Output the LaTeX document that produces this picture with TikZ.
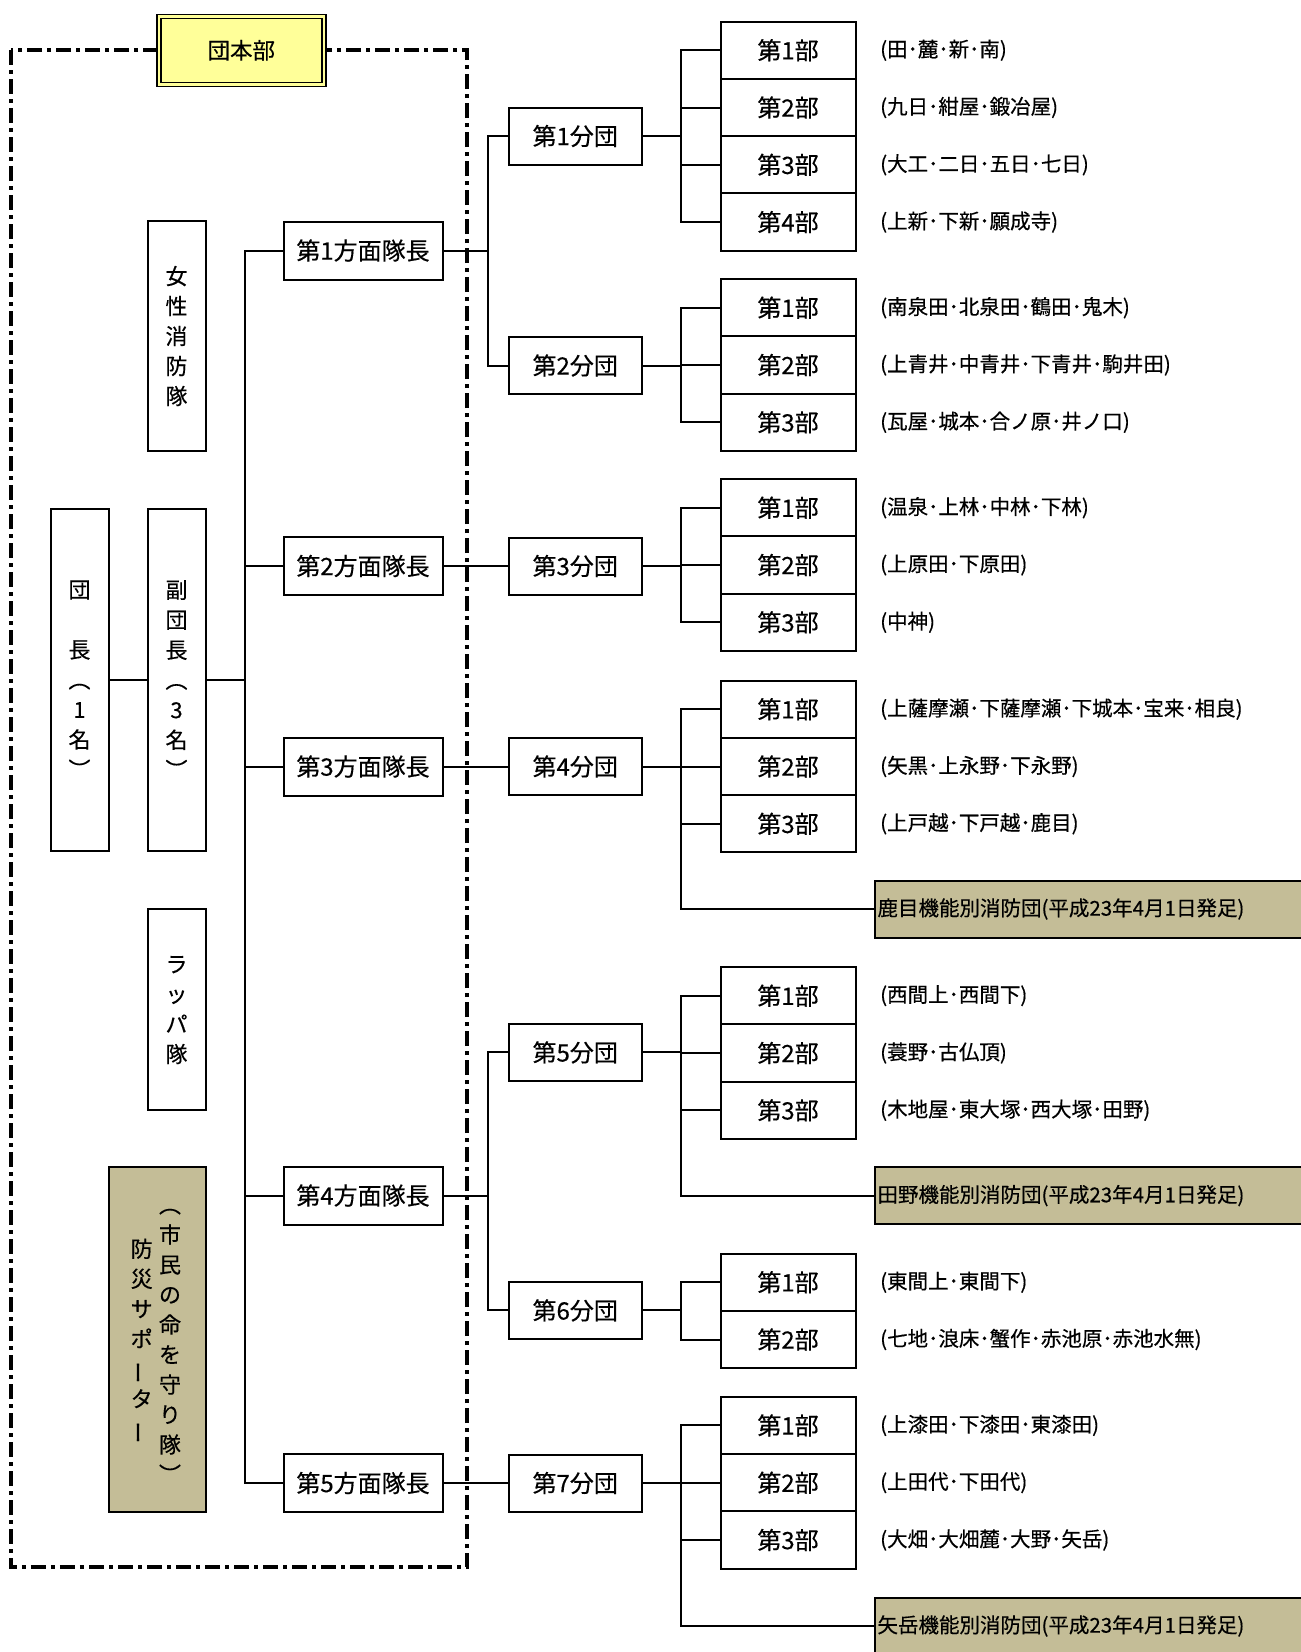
\documentclass[tikz,border=0pt]{standalone}
\usepackage{fontspec}
\usepackage{graphicx}
\setmainfont{Noto Sans CJK JP}[FakeBold=0.4]
\definecolor{yelfill}{HTML}{FFFF99}
\definecolor{tanfill}{HTML}{C4BD97}
\newcommand{\vs}{\vphantom{国}}
\newcommand{\vbar}{\rotatebox[origin=c]{90}{ー}}
\newcommand{\fsz}[1]{\fontsize{#1pt}{#1pt}\selectfont}
\tikzset{
  conn/.style={line width=2pt, line cap=rect},
  box/.style={draw, line width=2pt, fill=white, inner sep=0pt},
  hbox/.style={box, minimum width=159pt, minimum height=58pt, font=\fsz{24}},
  dbox/.style={box, minimum width=132.7pt, minimum height=57pt, font=\fsz{24}},
  pbox/.style={box, minimum width=135pt, minimum height=57.3pt, font=\fsz{24}},
  tallbox/.style={box, minimum width=58pt},
  vtext/.style={align=center, inner sep=0pt, font=\fontsize{22pt}{30pt}\selectfont},
  vill/.style={anchor=west, inner sep=0pt, font=\fsz{20.5}},
  tanbox/.style={draw, line width=2pt, fill=tanfill, anchor=west, minimum height=57pt,
     text width=430pt, align=left, inner xsep=3pt, inner ysep=0pt, font=\fsz{20.5}},
  frame/.style={line width=3.4pt, dash pattern=on 15pt off 5pt on 4pt off 5pt},
}
\newcommand{\bu}[4]{%
  \node[pbox] (#1) at (788,#2) {第#3部};
  \node[vill] (v#1) at ([xshift=23.5pt]#1.east) {#4};}
\begin{document}
\begin{tikzpicture}[x=1pt,y=-1pt]
\clip (0,0) rectangle (1301,1652);
\fill[white] (0,0) rectangle (1301,1652);

% dash-dot frame
\draw[frame] (11,50) rectangle (467,1567);

% 団本部
\node[draw, line width=1.5pt, double=yelfill, double distance=2.5pt, fill=yelfill,
      minimum width=165pt, minimum height=68pt, inner sep=0pt, font=\fsz{22.5}]
      (honbu) at (241.3,50.3) {団本部};

% left column boxes
\node[tallbox, vtext, minimum height=342pt] (dancho) at (79.5,680)
  {\vs 団\\\mbox{}\\長\\︵\\1\\名\\︶\vs};
\node[tallbox, vtext, minimum height=342pt] (fuku) at (176.5,680)
  {\vs 副\\団\\長\\︵\\3\\名\\︶\vs};
\node[tallbox, vtext, minimum height=230pt] (josei) at (176.5,336)
  {\vs 女\\性\\消\\防\\隊\vs};
\node[tallbox, vtext, minimum height=201pt] (rappa) at (176.5,1009.5)
  {\vs ラ\\ッ\\パ\\隊\vs};
\node[box, fill=tanfill, minimum width=97pt, minimum height=344.6pt] (bousai) at (157,1339.3) {};
\node[vtext] (bousaiR) at (170,1340)
  {\vs ︵\\市\\民\\の\\命\\を\\守\\り\\隊\\︶\vs};
\node[vtext] (bousaiL) at (141.7,1341)
  {\vs 防\\災\\サ\\ポ\\\vbar\\タ\\\vbar\vs};

% 方面隊長
\node[hbox] (h1) at (363,250.5) {第1方面隊長};
\node[hbox] (h2) at (363,566) {第2方面隊長};
\node[hbox] (h3) at (363,766.5) {第3方面隊長};
\node[hbox] (h4) at (363,1195.5) {第4方面隊長};
\node[hbox] (h5) at (363,1483) {第5方面隊長};

% 分団
\node[dbox] (d1) at (575.2,136) {第1分団};
\node[dbox] (d2) at (575.2,365.5) {第2分団};
\node[dbox] (d3) at (575.2,566) {第3分団};
\node[dbox] (d4) at (575.2,766.5) {第4分団};
\node[dbox] (d5) at (575.2,1052.4) {第5分団};
\node[dbox] (d6) at (575.2,1310.4) {第6分団};
\node[dbox] (d7) at (575.2,1483) {第7分団};

% 部 and areas
\bu{p11}{50.2}{1}{(田･麓･新･南)}
\bu{p12}{107.5}{2}{(九日･紺屋･鍛冶屋)}
\bu{p13}{164.8}{3}{(大工･二日･五日･七日)}
\bu{p14}{222.1}{4}{(上新･下新･願成寺)}

\bu{p21}{307.7}{1}{(南泉田･北泉田･鶴田･鬼木)}
\bu{p22}{365}{2}{(上青井･中青井･下青井･駒井田)}
\bu{p23}{422.3}{3}{(瓦屋･城本･合ノ原･井ノ口)}

\bu{p31}{507.7}{1}{(温泉･上林･中林･下林)}
\bu{p32}{565}{2}{(上原田･下原田)}
\bu{p33}{622.3}{3}{(中神)}

\bu{p41}{709.2}{1}{(上薩摩瀬･下薩摩瀬･下城本･宝来･相良)}
\bu{p42}{766.5}{2}{(矢黒･上永野･下永野)}
\bu{p43}{823.8}{3}{(上戸越･下戸越･鹿目)}
\node[tanbox] (k4) at (873.5,909) {鹿目機能別消防団(平成23年4月1日発足)};

\bu{p51}{995.7}{1}{(西間上･西間下)}
\bu{p52}{1053}{2}{(蓑野･古仏頂)}
\bu{p53}{1110.3}{3}{(木地屋･東大塚･西大塚･田野)}
\node[tanbox] (k5) at (873.5,1195.6) {田野機能別消防団(平成23年4月1日発足)};

\bu{p61}{1282.2}{1}{(東間上･東間下)}
\bu{p62}{1339.5}{2}{(七地･浪床･蟹作･赤池原･赤池水無)}

\bu{p71}{1425.4}{1}{(上漆田･下漆田･東漆田)}
\bu{p72}{1482.7}{2}{(上田代･下田代)}
\bu{p73}{1540}{3}{(大畑･大畑麓･大野･矢岳)}
\node[tanbox] (k7) at (873.5,1626) {矢岳機能別消防団(平成23年4月1日発足)};

% trunk
\coordinate (T) at (244.5,680);
\draw[conn] (dancho.east) -- (fuku.west);
\draw[conn] (fuku.east) -- (T);
\draw[conn] (h1.west) -| (T) |- (h5.west);
\foreach \h in {h2,h3,h4} \draw[conn] (\h.west) -- (\h.west -| T);

% 方面 -> 分団
\coordinate (J1) at (487.5,250.5);
\draw[conn] (h1.east) -- (J1);
\draw[conn] (d1.west) -| (J1) |- (d2.west);
\draw[conn] (h2.east) -- (d3.west);
\draw[conn] (h3.east) -- (d4.west);
\coordinate (J4) at (487.5,1195.5);
\draw[conn] (h4.east) -- (J4);
\draw[conn] (d5.west) -| (J4) |- (d6.west);
\draw[conn] (h5.east) -- (d7.west);

% 分団 -> 部
\coordinate (K1) at (680.7,136);
\draw[conn] (d1.east) -- (K1);
\draw[conn] (p11.west) -| (K1) |- (p14.west);
\foreach \p in {p12,p13} \draw[conn] (\p.west) -- (\p.west -| K1);

\coordinate (K2) at (680.7,365.5);
\draw[conn] (d2.east) -- (K2);
\draw[conn] (p21.west) -| (K2) |- (p23.west);
\draw[conn] (p22.west) -- (p22.west -| K2);

\coordinate (K3) at (680.7,566);
\draw[conn] (d3.east) -- (K3);
\draw[conn] (p31.west) -| (K3) |- (p33.west);
\draw[conn] (p32.west) -- (p32.west -| K3);

\coordinate (K4) at (680.7,766.5);
\draw[conn] (d4.east) -- (K4);
\draw[conn] (p41.west) -| (K4) |- (k4.west);
\foreach \p in {p42,p43} \draw[conn] (\p.west) -- (\p.west -| K4);

\coordinate (K5) at (680.7,1052.4);
\draw[conn] (d5.east) -- (K5);
\draw[conn] (p51.west) -| (K5) |- (k5.west);
\foreach \p in {p52,p53} \draw[conn] (\p.west) -- (\p.west -| K5);

\coordinate (K6) at (680.7,1310.4);
\draw[conn] (d6.east) -- (K6);
\draw[conn] (p61.west) -| (K6) |- (p62.west);

\coordinate (K7) at (680.7,1483);
\draw[conn] (d7.east) -- (K7);
\draw[conn] (p71.west) -| (K7) |- (k7.west);
\foreach \p in {p72,p73} \draw[conn] (\p.west) -- (\p.west -| K7);
\end{tikzpicture}
\end{document}
